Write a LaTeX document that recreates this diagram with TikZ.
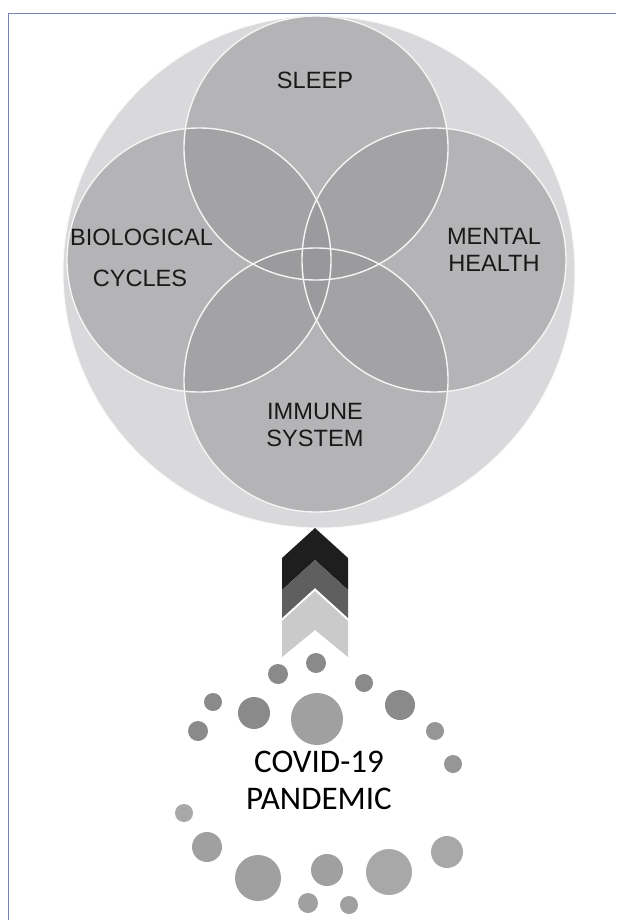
\documentclass[tikz,border=0pt]{standalone}
\usepackage{fontspec}
\setmainfont{Liberation Sans}
\newfontfamily\covidfont{Carlito}
\definecolor{frameblue}{RGB}{118,130,182}
\definecolor{ringgray}{RGB}{217,217,219}
\definecolor{vennfill}{RGB}{150,150,152}
\definecolor{chevA}{RGB}{30,30,30}
\definecolor{chevB}{RGB}{95,95,95}
\definecolor{chevC}{RGB}{202,202,202}
\definecolor{dotA}{RGB}{138,138,138}
\definecolor{dotB}{RGB}{150,150,150}
\definecolor{dotC}{RGB}{160,160,160}
\definecolor{dotD}{RGB}{168,168,168}
\definecolor{txt}{RGB}{25,25,25}
\begin{document}
\begin{tikzpicture}[x=1pt,y=-1pt,
  venn/.style={circle, inner sep=0pt, minimum size=264pt},
  lab/.style={text=txt, font=\fontsize{23.6}{27}\selectfont, align=center, inner sep=0pt},
  dot/.style={circle, inner sep=0pt}]
\useasboundingbox (0,0) rectangle (616,920);
\fill[white] (0,0) rectangle (616,920);
\draw[frameblue, line width=1.3pt] (8.7,920) -- (8.7,13.3) -- (616,13.3);
% big circle
\node[circle, inner sep=0pt, minimum size=512pt, fill=ringgray, draw=white!95!gray, line width=1pt] (big) at (319,272) {};
% four circles
\node[venn, fill=vennfill, fill opacity=0.55] (sleepc) at (316,148) {};
\node[venn, fill=vennfill, fill opacity=0.55] (bioc) at (199,260) {};
\node[venn, fill=vennfill, fill opacity=0.55] (mentc) at (434,260) {};
\node[venn, fill=vennfill, fill opacity=0.55] (immc) at (316,380) {};
\foreach \n in {sleepc,bioc,mentc,immc}
  \draw[white!92!gray, line width=1.4pt] (\n.center) circle (132pt);
% labels
\node[lab] (sleep) at (315,80) {SLEEP};
\node[lab] (bio) at (141.5,237) {BIOLOGICAL};
\node[lab] (cyc) at (140,278) {CYCLES};
\node[lab] (ment) at (494,250) {MENTAL\\HEALTH};
\node[lab] (imm) at (315,424.5) {IMMUNE\\SYSTEM};
% chevrons
\fill[chevA] (282,558) -- (315,528) -- (348,558) -- (348,590) -- (315,560) -- (282,590) -- cycle;
\fill[chevB] (282,590) -- (315,560) -- (348,590) -- (348,618) -- (315,588) -- (282,618) -- cycle;
\fill[chevC] (282,621) -- (315,591) -- (348,621) -- (348,657) -- (315,630) -- (282,657) -- cycle;
% dots
\foreach \x/\y/\d/\c [count=\i] in {
  316/663/20/dotA, 278/674/20/dotA, 364/683/18/dotA, 213/702/18/dotA,
  254/713/32/dotA, 317/719/52/dotC, 400/705/30/dotA, 198/731/20/dotA,
  435/731/18/dotB, 453/764/18/dotB, 184/813/18/dotD, 207/847/30/dotC,
  258/878/46/dotC, 327/870/32/dotC, 389/872/46/dotD, 447/852/32/dotD,
  308/903/20/dotC, 349/905/18/dotC}
  \node[dot, fill=\c, minimum size=\d pt] (dot\i) at (\x,\y) {};
% covid text
\node[text=black, font=\covidfont\fontsize{33}{37}\selectfont, align=center, inner sep=0pt] (covid) at (319,780.5) {COVID-19\\PANDEMIC};
\end{tikzpicture}
\end{document}
